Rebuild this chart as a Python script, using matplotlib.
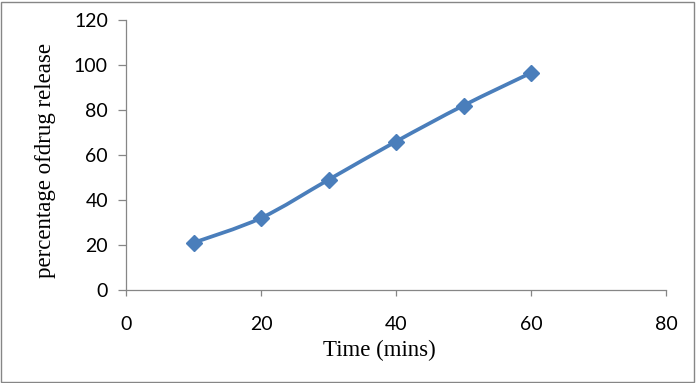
import numpy as np
import matplotlib.pyplot as plt
from matplotlib.path import Path
from matplotlib.patches import PathPatch, Rectangle

time_min = [10, 20, 30, 40, 50, 60]
release_pct = [21, 32, 49, 66, 82, 96.5]
x_ticks = [0, 20, 40, 60, 80]
y_ticks = [0, 20, 40, 60, 80, 100, 120]

blue = '#4A7EBB'
grey = '#868686'

fig = plt.figure(figsize=(6.96, 3.83), dpi=100)
ax = fig.add_axes([126/696, 93/383, 540/696, 270/383])

# Excel-like smoothed line: cubic bezier segments through the points
px = np.array(time_min, dtype=float)
py = np.array(release_pct, dtype=float)
verts = [(px[0], py[0])]
codes = [Path.MOVETO]
n = len(px)
for i in range(n - 1):
    p0 = i - 1 if i > 0 else i
    p3 = i + 2 if i + 2 < n else i + 1
    c1 = (px[i] + (px[i+1] - px[p0]) / 6, py[i] + (py[i+1] - py[p0]) / 6)
    c2 = (px[i+1] - (px[p3] - px[i]) / 6, py[i+1] - (py[p3] - py[i]) / 6)
    verts += [c1, c2, (px[i+1], py[i+1])]
    codes += [Path.CURVE4] * 3
ax.add_patch(PathPatch(Path(verts, codes), facecolor='none', edgecolor=blue,
                       lw=2.7, capstyle='round', joinstyle='round'))
ax.plot(time_min, release_pct, linestyle='none', marker='D', markersize=7.8,
        color=blue, markeredgecolor=blue)

ax.set_xlim(0, 80)
ax.set_ylim(0, 120)
ax.set_xticks(x_ticks)
ax.set_yticks(y_ticks)

for s in ['top', 'right']:
    ax.spines[s].set_visible(False)
for s in ['left', 'bottom']:
    ax.spines[s].set_color(grey)
    ax.spines[s].set_linewidth(0.9)
ax.tick_params(axis='both', direction='out', color=grey, width=0.9,
               labelsize=14, labelcolor='black')
ax.tick_params(axis='y', length=6, pad=7)
ax.tick_params(axis='x', length=4, pad=15)
for lab in ax.get_xticklabels() + ax.get_yticklabels():
    lab.set_fontfamily('Lato')

ax.set_xlabel('Time (mins)', fontfamily='Liberation Serif', fontsize=16.5)
ax.set_ylabel('percentage ofdrug release', fontfamily='Liberation Serif', fontsize=16.5)
ax.xaxis.set_label_coords(0.469, -0.185)
ax.yaxis.set_label_coords(-0.13, 0.48)

fig.patches.append(Rectangle((1/696, 1/383), 693/696, 380/383, transform=fig.transFigure,
                             fill=False, edgecolor=grey, lw=1))

fig.savefig('out.png', dpi=100)
